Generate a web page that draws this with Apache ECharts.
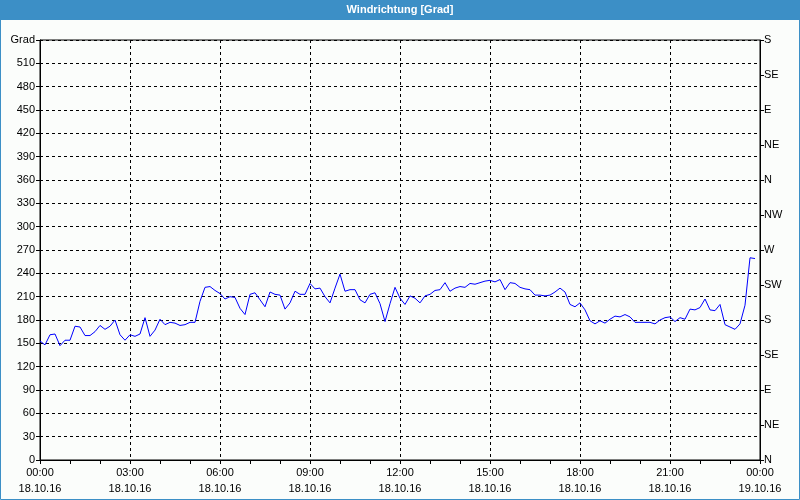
<!DOCTYPE html>
<html><head><meta charset="utf-8">
<script src="https://cdn.jsdelivr.net/npm/echarts@6/dist/echarts.min.js"></script>
<style>html,body{margin:0;padding:0;background:#fbfdfb;}#c{width:800px;height:500px;}</style>
</head><body><div id="c"></div>
<script>
// 10-minute samples starting 18.10.16 00:00
const stepMinutes = 10;
const values = [
 153,148,161,162,147,154, 154,172,171,160,160,165, 173,168,172,180,161,154,
 161,159,162,183,159,167, 181,174,177,176,173,174, 177,177,204,222,223,218,
 214,207,210,209,195,187, 213,215,206,197,216,213, 212,194,202,217,213,213,
 227,220,221,210,202,221, 239,217,219,219,206,202, 213,215,201,178,201,222,
 208,200,211,208,202,211, 213,218,219,228,217,221, 223,222,227,226,228,230,
 231,229,232,219,228,227, 222,220,219,212,212,211, 212,216,221,216,200,197,
 202,193,179,175,179,176, 181,185,184,187,184,177, 177,177,177,175,180,183,
 184,178,183,181,194,193, 196,207,193,192,200,174, 171,168,175,199,260,259
];
const timeTickLabels = ['00:00','03:00','06:00','09:00','12:00','15:00','18:00','21:00','00:00'];
const dateTickLabels = ['18.10.16','18.10.16','18.10.16','18.10.16','18.10.16','18.10.16','18.10.16','18.10.16','19.10.16'];
const compassLabels = ['N','NE','E','SE','S','SW','W','NW','N','NE','E','SE','S'];
const yUnit = 'Grad';
const title = 'Windrichtung [Grad]';

const data = values.map((v, i) => [i * stepMinutes, v]);
const font = 'Liberation Sans, Arial, sans-serif';

const chart = echarts.init(document.getElementById('c'));
chart.setOption({
  animation: false,
  backgroundColor: '#fbfdfb',
  graphic: [
    {type:'rect', shape:{x:0.5,y:0.5,width:799,height:499}, style:{fill:'none', stroke:'#3c8fc6', lineWidth:1}, z:-1},
    {type:'rect', shape:{x:0,y:0,width:800,height:20}, style:{fill:'#3c8fc6'}},
    {type:'text', left:'center', top:4, style:{text:title, fill:'#ffffff', font:'bold 11px ' + font}}
  ],
  grid: {left:40, right:40, top:40, bottom:40, show:true, borderColor:'#000', borderWidth:1, backgroundColor:'transparent', containLabel:false, outerBoundsMode:'none'},
  xAxis: {
    type:'value', min:0, max:1440, interval:180,
    axisLine:{show:true, lineStyle:{color:'#000', width:1}},
    axisTick:{show:true, length:4, lineStyle:{color:'#000'}},
    minorTick:{show:true, splitNumber:3, length:4, lineStyle:{color:'#000'}},
    splitLine:{show:true, lineStyle:{color:'#000', type:[3,3], width:1}},
    axisLabel:{color:'#000', fontFamily:font, fontSize:11, lineHeight:16, margin:5,
      formatter: v => { const i = Math.round(v/180); return timeTickLabels[i] + '\n' + dateTickLabels[i]; }}
  },
  yAxis: [
    {type:'value', min:0, max:540, interval:30, position:'left',
     axisLine:{show:true, lineStyle:{color:'#000'}},
     axisTick:{show:true, length:4, lineStyle:{color:'#000'}},
     splitLine:{show:true, lineStyle:{color:'#000', type:[3,3], width:1}},
     axisLabel:{color:'#000', fontFamily:font, fontSize:11, margin:5,
       formatter: v => v === 540 ? yUnit : String(v)}},
    {type:'value', min:0, max:540, interval:45, position:'right',
     axisLine:{show:true, lineStyle:{color:'#000'}},
     axisTick:{show:true, length:4, lineStyle:{color:'#000'}},
     splitLine:{show:false},
     axisLabel:{color:'#000', fontFamily:font, fontSize:11, margin:4,
       formatter: v => compassLabels[Math.round(v/45)]}}
  ],
  series: [{
    type:'line', data:data, showSymbol:false, symbol:'none',
    lineStyle:{color:'#0000ff', width:1}, xAxisIndex:0, yAxisIndex:0
  }]
});
</script></body></html>
